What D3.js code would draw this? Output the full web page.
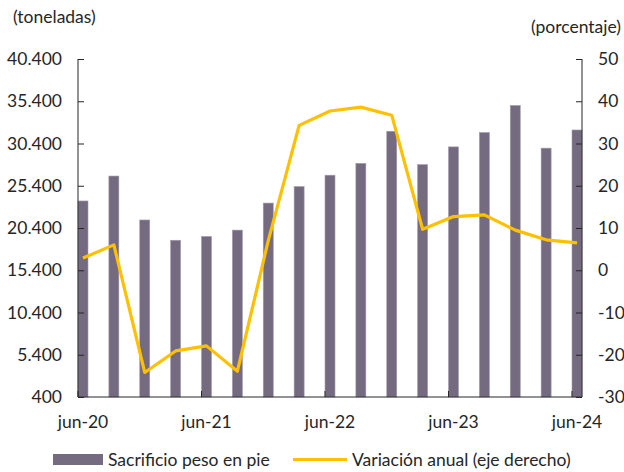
<!DOCTYPE html>
<html><head><meta charset="utf-8">
<script src="https://cdn.jsdelivr.net/npm/d3@7"></script>
<style>
html,body{margin:0;padding:0;background:#fff;}
text{font-family:Lato, "Open Sans", sans-serif;fill:#262626;}
</style></head>
<body>
<svg id="c" width="624" height="472"></svg>
<script>
const categories = ["jun-20","sep-20","dic-20","mar-21","jun-21","sep-21","dic-21","mar-22","jun-22","sep-22","dic-22","mar-23","jun-23","sep-23","dic-23","mar-24","jun-24"];
const sacrificio = [23600,26550,21350,18950,19400,20150,23350,25300,26650,28050,31850,27900,30000,31700,34900,29850,32000];
const variacion = [2.9,6.0,-24.2,-19.1,-17.9,-23.9,7.0,34.3,37.7,38.6,36.7,9.7,12.7,13.1,9.5,7.2,6.5];
const xLabels = ["jun-20","jun-21","jun-22","jun-23","jun-24"];
const leftTicks = [400,5400,10400,15400,20400,25400,30400,35400,40400];
const rightTicks = [-30,-20,-10,0,10,20,30,40,50];

const svg = d3.select("#c");
const L = 78, R = 582, T = 59, B = 397, bw = 10, fs = 17.5;
const x = d3.scalePoint().domain(categories).range([L + bw/2, R - bw/2]);
const yL = d3.scaleLinear().domain([400, 40400]).range([B, T]);
const yR = d3.scaleLinear().domain([-30, 50]).range([B, T]);
const fmt = v => d3.format(",")(v).replace(/,/g, ".");

const barColor = "#756B81", lineColor = "#FFC000", axisColor = "#262626";

// bars
svg.append("g").selectAll("rect").data(sacrificio).join("rect")
  .attr("x", (d,i) => x(categories[i]) - bw/2)
  .attr("width", bw)
  .attr("y", d => yL(d))
  .attr("height", d => B - yL(d))
  .attr("fill", barColor)
  .attr("stroke", "#A49CAD").attr("stroke-width", 0.6);

// line
const line = d3.line().x((d,i) => x(categories[i])).y(d => yR(d));
svg.append("path").datum(variacion)
  .attr("d", line).attr("fill", "none")
  .attr("stroke", lineColor).attr("stroke-width", 3.2)
  .attr("stroke-linejoin", "round");

// left axis
const gL = svg.append("g").attr("transform", `translate(${L},0)`)
  .call(d3.axisRight(yL).tickValues(leftTicks).tickSize(6).tickFormat(""));
gL.select(".domain").attr("d", `M0,${T}V${B}`);
gL.selectAll("line,path").attr("stroke", axisColor);
svg.append("g").selectAll("text").data(leftTicks).join("text")
  .attr("x", 62).attr("y", d => yL(d)).attr("dy", "0.35em")
  .attr("text-anchor", "end").attr("font-size", fs).text(fmt);

// right axis
const gR = svg.append("g").attr("transform", `translate(${R},0)`)
  .call(d3.axisLeft(yR).tickValues(rightTicks).tickSize(6).tickFormat(""));
gR.select(".domain").attr("d", `M0,${T}V${B}`);
gR.selectAll("line,path").attr("stroke", axisColor);
svg.append("g").selectAll("text").data(rightTicks).join("text")
  .attr("x", 598).attr("y", d => yR(d)).attr("dy", "0.35em")
  .attr("text-anchor", "start").attr("font-size", fs).text(d => d);

// bottom axis
svg.append("line").attr("x1", L).attr("x2", R).attr("y1", B).attr("y2", B)
  .attr("stroke", axisColor);
svg.append("g").selectAll("line").data(xLabels).join("line")
  .attr("x1", d => x(d) - bw/2).attr("x2", d => x(d) - bw/2)
  .attr("y1", B).attr("y2", B - 6).attr("stroke", axisColor);
svg.append("g").selectAll("text").data(xLabels).join("text")
  .attr("x", d => x(d)).attr("y", 428)
  .attr("text-anchor", "middle").attr("font-size", fs).text(d => d);

// axis titles
svg.append("text").attr("x", 13).attr("y", 23).attr("font-size", fs).text("(toneladas)");
svg.append("text").attr("x", 621).attr("y", 33).attr("text-anchor", "end").attr("font-size", fs).text("(porcentaje)");

// legend
svg.append("rect").attr("x", 53).attr("y", 454).attr("width", 50).attr("height", 11).attr("fill", barColor);
svg.append("text").attr("x", 108).attr("y", 466).attr("font-size", fs).text("Sacrificio peso en pie");
svg.append("line").attr("x1", 293).attr("x2", 347).attr("y1", 459.5).attr("y2", 459.5)
  .attr("stroke", lineColor).attr("stroke-width", 3.2);
svg.append("text").attr("x", 352).attr("y", 466).attr("font-size", fs).text("Variación anual (eje derecho)");
</script>
</body></html>
